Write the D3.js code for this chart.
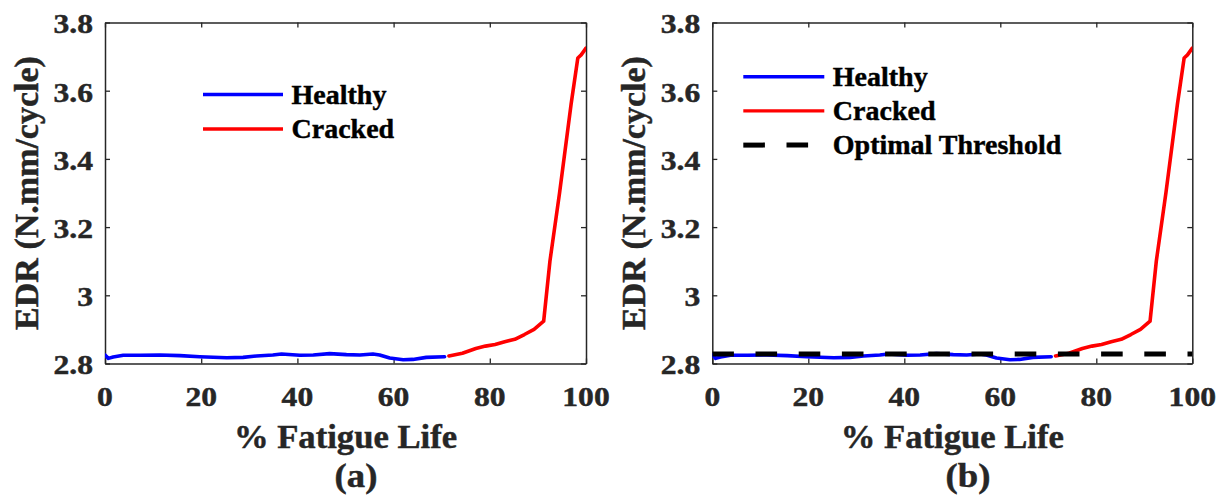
<!DOCTYPE html>
<html>
<head>
<meta charset="utf-8">
<script src="https://cdn.jsdelivr.net/npm/d3@7"></script>
<style>
  html, body { margin: 0; padding: 0; background: #fff; }
  svg { display: block; }
  text { font-family: "Liberation Serif", "Times New Roman", serif; font-weight: bold; }
</style>
</head>
<body>
<svg id="fig" width="1222" height="499"></svg>
<script>
// EDR over fatigue life
const healthyX = [0, 0.7, 1.7, 3.8, 7.3, 11.4, 15.6, 19.7, 25.3, 28.7, 31.5, 34.9, 36.7, 40.5, 43.3, 46.7, 50.2, 53.0, 55.7, 57.1, 59.2, 62.0, 64.0, 66.8, 70.6];
const healthyY = [2.825, 2.815, 2.819, 2.824, 2.824, 2.825, 2.823, 2.820, 2.817, 2.818, 2.822, 2.825, 2.828, 2.824, 2.825, 2.829, 2.826, 2.825, 2.828, 2.825, 2.816, 2.811, 2.812, 2.818, 2.820];
const crackedX = [71.5, 74.3, 77.1, 79.1, 81.1, 83.1, 85.2, 87.2, 89.2, 91.2, 92.5, 94.5, 96.9, 98.3, 99.0, 100];
const crackedY = [2.822, 2.830, 2.844, 2.851, 2.856, 2.864, 2.871, 2.885, 2.900, 2.924, 3.100, 3.300, 3.560, 3.696, 3.705, 3.725];
const thresholdY = 2.828;
const xTicks = [0, 20, 40, 60, 80, 100];
const yTicks = [2.8, 3.0, 3.2, 3.4, 3.6, 3.8];
const yTickLabels = ["2.8", "3", "3.2", "3.4", "3.6", "3.8"];
const xTitle = "% Fatigue Life";
const yTitle = "EDR (N.mm/cycle)";

const svg = d3.select("#fig");
const ink = "#262626";

// bold serif text, optionally widened horizontally
function label(parent, x, y, str, o) {
  const sx = o.sx || 1;
  return parent.append("text")
    .attr("transform", `translate(${x},${y}) scale(${sx},1)`)
    .attr("text-anchor", o.anchor || "start")
    .attr("dy", o.dy || null)
    .style("font-size", o.size + "px")
    .attr("fill", o.fill || ink)
    .attr("stroke", o.fill || ink)
    .attr("stroke-width", o.sw == null ? 0.45 : o.sw)
    .text(str);
}

function panel(cfg) {
  const g = svg.append("g");
  const x = d3.scaleLinear().domain([0, 100]).range([cfg.left, cfg.right]);
  const y = d3.scaleLinear().domain([2.8, 3.8]).range([cfg.bottom, cfg.top]);
  const tick = 5;

  const clipId = "clip-" + cfg.id;
  svg.append("clipPath").attr("id", clipId)
    .append("rect").attr("x", cfg.left).attr("y", cfg.top)
    .attr("width", cfg.right - cfg.left).attr("height", cfg.bottom - cfg.top);

  // box axes with inward ticks; labels drawn separately below
  const axes = [
    [d3.axisBottom(x).tickValues(xTicks), `translate(0,${cfg.bottom})`],
    [d3.axisTop(x).tickValues(xTicks), `translate(0,${cfg.top})`],
    [d3.axisLeft(y).tickValues(yTicks), `translate(${cfg.left},0)`],
    [d3.axisRight(y).tickValues(yTicks), `translate(${cfg.right},0)`]
  ];
  axes.forEach(([ax, tr]) => {
    const a = g.append("g").attr("transform", tr)
      .call(ax.tickSizeInner(-tick).tickSizeOuter(0).tickFormat(""));
    a.selectAll(".domain").attr("stroke", ink).attr("stroke-width", 1.5);
    a.selectAll(".tick line").attr("stroke", ink).attr("stroke-width", 1.3);
    a.selectAll(".tick text").remove();
  });

  xTicks.forEach(t => label(g, x(t), cfg.bottom + 42.5, String(t), { size: 27, sx: 1.17, anchor: "middle" }));
  yTicks.forEach((t, i) => label(g, cfg.left - 12, y(t) + 1.5, yTickLabels[i], { size: 27, sx: 1.17, anchor: "end", dy: "0.35em" }));

  // data
  const line = d3.line().x(d => x(d[0])).y(d => y(d[1]));
  const plot = g.append("g").attr("clip-path", `url(#${clipId})`);
  plot.append("path").datum(d3.zip(healthyX, healthyY))
    .attr("d", line).attr("fill", "none").attr("stroke", "#0000ff")
    .attr("stroke-width", 3.6).attr("stroke-linejoin", "round").attr("stroke-linecap", "round");
  plot.append("path").datum(d3.zip(crackedX, crackedY))
    .attr("d", line).attr("fill", "none").attr("stroke", "#ff0000")
    .attr("stroke-width", 3.6).attr("stroke-linejoin", "round").attr("stroke-linecap", "round");
  if (cfg.threshold) {
    plot.append("path").datum([[0, thresholdY], [100, thresholdY]])
      .attr("d", line).attr("fill", "none").attr("stroke", "#000")
      .attr("stroke-width", 5).attr("stroke-dasharray", "21.6,21.6");
  }

  // titles
  label(g, (cfg.left + cfg.right) / 2, 447.5, xTitle, { size: 33, sx: 1.05, anchor: "middle" });
  g.append("text")
    .attr("transform", `translate(${cfg.left - 67},${(cfg.top + cfg.bottom) / 2}) rotate(-90)`)
    .attr("text-anchor", "middle").style("font-size", "34px")
    .attr("fill", ink).attr("stroke", ink).attr("stroke-width", 0.45)
    .text(yTitle);
  label(g, cfg.labelX, 487, cfg.label, { size: 34, sx: 1.08, anchor: "middle" });

  // legend
  const leg = g.append("g");
  cfg.legend.forEach((e, i) => {
    const ly = cfg.legY + i * cfg.legStep;
    const l = leg.append("line").attr("x1", cfg.legX).attr("x2", cfg.legX + cfg.legLen)
      .attr("y1", ly).attr("y2", ly).attr("stroke", e.color).attr("stroke-width", e.dash ? 5 : 3.4);
    if (e.dash) l.attr("stroke-dasharray", "21.6,21.6");
    label(leg, cfg.legX + cfg.legLen + 8.5, ly, e.name, { size: 28, fill: "#000", dy: "0.33em" });
  });
}

const legendA = [
  { name: "Healthy", color: "#0000ff" },
  { name: "Cracked", color: "#ff0000" }
];
const legendB = legendA.concat([{ name: "Optimal Threshold", color: "#000", dash: true }]);

panel({ id: "a", left: 105, right: 586, top: 22.5, bottom: 363.5, label: "(a)", labelX: 356,
        legend: legendA, legX: 203, legLen: 80, legY: 94.5, legStep: 34.5 });
panel({ id: "b", left: 712.3, right: 1192.3, top: 22.5, bottom: 363.5, label: "(b)", labelX: 968,
        legend: legendB, legX: 743.3, legLen: 81, legY: 76.7, legStep: 34.2, threshold: true });
</script>
</body>
</html>
